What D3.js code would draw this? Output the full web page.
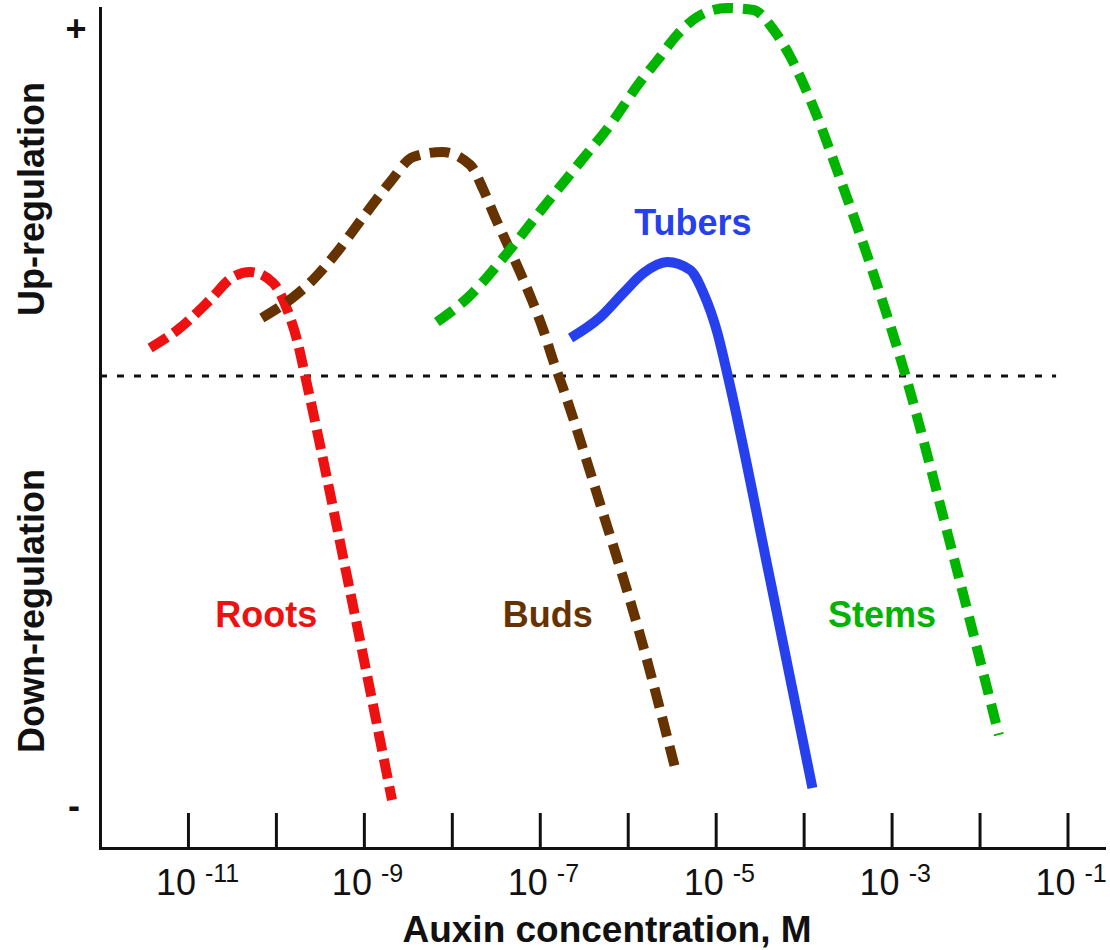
<!DOCTYPE html>
<html>
<head>
<meta charset="utf-8">
<script src="https://cdn.jsdelivr.net/npm/d3@7"></script>
<style>
	body { margin: 0; background: #fff; }
	svg { display: block; font-family: "Liberation Sans", Arial, sans-serif; }
</style>
</head>
<body>
<svg id="chart" width="1110" height="950"></svg>
<script>
	// Data: x as log10 of auxin concentration (M),
	// y as relative response (0 = no effect, dotted line)
	var rootsLogConc = [-11.43, -11.12, -10.75, -10.49, -10.29, -10.03, -9.87, -9.76, -9.65, -9.16, -8.68];
	var rootsResponse = [0.28, 0.46, 0.76, 0.99, 1.04, 0.93, 0.66, 0.36, -0.07, -2.14, -4.24];

	var budsLogConc = [-10.16, -9.80, -9.58, -9.35, -8.99, -8.70, -8.44, -8.11, -7.79, -7.64, -7.51, -7.39, -7.22, -7.09, -6.96, -6.85, -6.74, -6.31, -5.86, -5.45];
	var budsResponse = [0.58, 0.79, 0.96, 1.19, 1.61, 1.94, 2.19, 2.24, 2.11, 1.86, 1.59, 1.36, 1.03, 0.76, 0.46, 0.16, -0.11, -1.29, -2.59, -3.96];

	var stemsLogConc = [-8.17, -7.81, -7.37, -6.92, -6.54, -6.20, -5.86, -5.66, -5.44, -5.21, -4.87, -4.57, -4.34, -4.15, -3.89, -3.58, -3.24, -2.84, -2.33, -1.78];
	var stemsResponse = [0.54, 0.79, 1.23, 1.73, 2.14, 2.51, 2.94, 3.16, 3.41, 3.59, 3.68, 3.66, 3.46, 3.19, 2.69, 1.96, 1.11, 0.0, -1.69, -3.59];

	var tubersLogConc = [-6.65, -6.31, -6.05, -5.82, -5.55, -5.29, -5.14, -4.98, -4.87, -4.38, -3.90];
	var tubersResponse = [0.38, 0.59, 0.83, 1.03, 1.14, 1.06, 0.83, 0.43, 0.03, -2.04, -4.12];

	// axis ticks (every decade) and the labelled ones
	var tickExponents = [-11, -10, -9, -8, -7, -6, -5, -4, -3, -2, -1];
	var labelExponents = [-11, -9, -7, -5, -3, -1];

	var svg = d3.select('#chart');

	var x = d3.scaleLog()
		.domain([1e-12, 0.26])
		.range([100, 1104]);
	var y = d3.scaleLinear()
		.domain([-4.72, 3.68])
		.range([848, 8]);

	function zip(xs, ys) {
		return xs.map(function (v, i) {
			return [v, ys[i]];
		});
	}

	var line = d3.line()
		.x(function (d) { return x(Math.pow(10, d[0])); })
		.y(function (d) { return y(d[1]); })
		.curve(d3.curveMonotoneX);

	// zero line
	svg.append('line')
		.attr('x1', x.range()[0])
		.attr('x2', x(Math.pow(10, -1.13)))
		.attr('y1', y(0))
		.attr('y2', y(0))
		.attr('stroke', '#111')
		.attr('stroke-width', 3)
		.attr('stroke-dasharray', '7,10');

	// curves
	var series = [
		{ data: zip(rootsLogConc, rootsResponse), color: '#ee1111', dash: '20,8' },
		{ data: zip(budsLogConc, budsResponse), color: '#663300', dash: '20,10' },
		{ data: zip(stemsLogConc, stemsResponse), color: '#00b400', dash: '20,10' },
		{ data: zip(tubersLogConc, tubersResponse), color: '#2740ee', dash: null }
	];

	series.forEach(function (s) {
		svg.append('path')
			.attr('d', line(s.data))
			.attr('fill', 'none')
			.attr('stroke', s.color)
			.attr('stroke-width', 10)
			.attr('stroke-dasharray', s.dash);
	});

	// x axis, ticks pointing up
	var gX = svg.append('g')
		.attr('transform', 'translate(0,' + y.range()[0] + ')')
		.call(d3.axisBottom(x)
			.tickValues(tickExponents.map(function (e) { return Math.pow(10, e); }))
			.tickSize(-35)
			.tickSizeOuter(0)
			.tickFormat(''));

	// y axis, no ticks
	var gY = svg.append('g')
		.attr('transform', 'translate(' + x.range()[0] + ',0)')
		.call(d3.axisLeft(y).tickValues([]).tickSizeOuter(0));

	svg.selectAll('.domain, .tick line')
		.attr('stroke', '#111')
		.attr('stroke-width', 3);
	svg.selectAll('.domain').attr('stroke-linecap', 'square');

	// 10^n labels
	labelExponents.forEach(function (e) {
		var t = svg.append('text')
			.attr('x', x(Math.pow(10, e)) - 32)
			.attr('y', 895)
			.attr('font-size', 36)
			.attr('fill', '#111')
			.text('10');
		t.append('tspan')
			.attr('dx', 9)
			.attr('dy', -13)
			.attr('font-size', 25)
			.text('-' + Math.abs(e));
	});

	svg.append('text')
		.attr('x', 607)
		.attr('y', 942)
		.attr('text-anchor', 'middle')
		.attr('font-size', 37)
		.attr('font-weight', 'bold')
		.attr('fill', '#111')
		.text('Auxin concentration, M');

	// y axis side labels
	function sideLabel(txt, cy) {
		svg.append('text')
			.attr('transform', 'translate(44,' + cy + ') rotate(-90)')
			.attr('text-anchor', 'middle')
			.attr('font-size', 36)
			.attr('font-weight', 'bold')
			.attr('fill', '#111')
			.text(txt);
	}
	sideLabel('Up-regulation', 199);
	sideLabel('Down-regulation', 611);

	svg.append('text')
		.attr('x', 76).attr('y', 41)
		.attr('text-anchor', 'middle')
		.attr('font-size', 36)
		.attr('font-weight', 'bold')
		.attr('fill', '#111')
		.text('+');
	svg.append('text')
		.attr('x', 74).attr('y', 818)
		.attr('text-anchor', 'middle')
		.attr('font-size', 36)
		.attr('font-weight', 'bold')
		.attr('fill', '#111')
		.text('-');

	// curve names
	function curveLabel(txt, logc, resp, color) {
		svg.append('text')
			.attr('x', x(Math.pow(10, logc)))
			.attr('y', y(resp))
			.attr('text-anchor', 'middle')
			.attr('font-size', 36)
			.attr('font-weight', 'bold')
			.attr('fill', color)
			.text(txt);
	}
	curveLabel('Roots', -10.11, -2.51, series[0].color);
	curveLabel('Buds', -6.91, -2.51, series[1].color);
	curveLabel('Stems', -3.11, -2.51, series[2].color);
	curveLabel('Tubers', -5.26, 1.41, series[3].color);
</script>
</body>
</html>
